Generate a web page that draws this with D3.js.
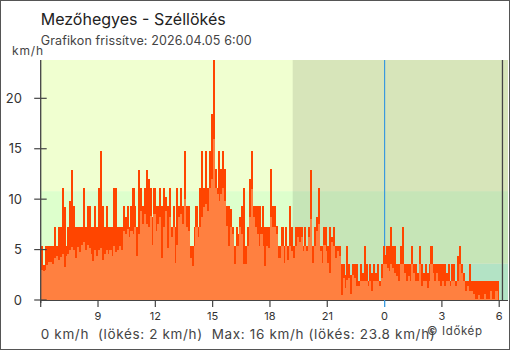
<!DOCTYPE html>
<html><head><meta charset="utf-8">
<script src="https://cdn.jsdelivr.net/npm/d3@7"></script>
<style>html,body{margin:0;padding:0;background:#fff;} svg{display:block;font-family:Inter, sans-serif;}</style>
</head><body><svg id="c" width="510" height="350"></svg>
<script>
// ---- data ----
const titleText = "Mezőhegyes - Széllökés";
const subtitleText = "Grafikon frissítve: 2026.04.05 6:00";
const unitText = "km/h";
const footerText = "0 km/h  (lökés: 2 km/h)  Max: 16 km/h (lökés: 23.8 km/h)";
const creditText = "© Időkép";
// hours since 2026.04.04 6:00
const xTickHours = [0, 3, 6, 9, 12, 15, 18, 21, 24];
const xTickLabels = ["", "9", "12", "15", "18", "21", "0", "3", "6"];
const yTicks = [0, 5, 10, 15, 20];
const bandEdges = [0, 3.6, 10.8, 23.8];
const stepMinutes = 6;
const nightStartHour = 13.19;
const midnightHour = 18;
const nowHour = 24.17;
const endHour = 24.46;
const gust = [
5.4,3.5,5.4,5.4,5.4,5.4,5.4,7.2,5.4,7.2,
7.2,11.1,9.2,5.4,7.2,9.8,12.9,9.3,7.2,7.2,
7.2,7.2,11.1,7.2,9.3,9.3,7.2,7.2,9.3,7.2,
11.1,14.8,9.3,7.2,9.3,7.2,7.2,7.2,11.1,11.1,
7.2,7.2,7.2,9.3,8.2,9.3,7.2,9.3,11.1,9.3,
7.2,12.9,11.1,9.3,11.1,12.9,12.0,11.1,8.2,11.1,
9.3,9.3,11.1,9.3,11.1,10.2,9.3,11.1,7.2,9.3,
7.2,11.1,9.3,11.1,9.3,14.8,9.3,9.3,5.4,5.4,
7.2,9.3,7.2,11.1,14.8,11.1,14.8,11.1,14.8,18.4,
23.8,13.0,11.1,14.8,13.0,14.8,13.0,9.3,9.3,9.0,
7.2,5.4,7.2,6.5,8.2,9.3,11.1,5.4,7.2,12.0,
14.8,9.3,9.3,9.3,9.3,7.2,9.3,7.2,7.2,7.2,
13.0,9.3,9.3,7.3,5.4,5.4,7.2,5.4,7.2,5.4,
9.3,7.2,5.4,7.2,7.2,7.2,7.2,5.4,7.2,5.4,
7.2,12.9,5.4,7.2,8.2,11.1,5.4,5.4,7.2,7.2,
5.4,7.2,6.2,7.2,5.4,5.4,5.4,3.6,3.6,2.5,
5.4,3.6,2.5,3.6,3.6,3.6,1.9,3.6,2.7,5.4,
3.6,1.9,3.6,2.7,3.6,2.7,3.6,1.9,3.6,5.4,
4.5,5.4,5.4,7.2,5.4,5.4,3.6,3.6,5.4,7.2,
3.6,3.6,3.6,3.6,5.4,3.6,3.6,2.7,5.4,3.6,
2.7,3.6,2.7,3.6,5.4,3.6,3.6,3.6,3.6,3.6,
3.6,3.6,2.7,3.6,1.9,3.6,3.6,1.9,4.4,5.4,
3.6,2.7,1.9,1.9,3.6,1.9,1.9,1.9,1.9,1.9,
1.9,1.9,1.9,1.9,1.9,1.9,1.9,1.9,1.9,1.9
];
const speed = [
3.0,2.9,3.0,3.5,3.8,3.8,3.6,4.2,4.4,4.0,
4.3,4.6,3.3,4.4,4.6,5.0,5.3,5.0,4.2,5.3,
4.8,5.5,5.8,5.0,5.5,5.2,4.6,3.9,5.0,4.4,
5.0,5.2,4.0,4.6,5.0,4.6,5.0,4.4,5.4,4.8,
5.0,5.4,5.0,6.8,6.5,7.0,6.2,6.8,6.5,7.2,
4.4,6.5,8.8,7.5,8.5,7.5,7.2,8.3,5.5,8.5,
6.8,7.5,8.2,4.2,7.2,8.8,5.2,8.2,6.2,7.2,
3.7,5.5,8.2,8.5,7.5,10.0,7.2,6.8,4.2,3.4,
5.4,7.2,6.2,7.2,8.2,9.2,9.5,8.8,11.1,12.0,
16.0,11.1,10.5,9.8,10.5,11.1,9.8,7.3,5.4,7.2,
6.5,3.6,5.4,5.4,7.2,6.5,3.6,3.6,5.4,8.2,
11.0,8.2,7.2,6.5,5.4,6.5,5.4,3.4,5.4,5.2,
8.2,7.2,7.2,6.5,4.2,4.2,5.4,3.7,5.4,4.0,
5.4,4.9,4.2,5.4,6.2,5.8,6.2,4.9,5.4,4.9,
6.2,8.0,3.7,5.4,6.8,7.5,4.9,3.7,5.5,4.9,
3.7,2.7,5.8,5.4,4.2,4.9,4.4,0.5,2.2,1.2,
2.0,2.2,0.6,2.5,2.2,1.4,1.4,1.9,1.9,1.9,
1.9,1.4,1.9,0.9,1.9,1.9,1.9,1.4,2.2,3.6,
3.6,3.2,2.9,3.6,3.2,2.7,2.4,1.9,3.6,3.6,
2.7,1.9,2.4,1.9,3.6,2.7,1.9,1.9,3.6,1.4,
1.9,1.9,1.2,1.9,3.6,2.7,1.9,2.7,1.9,1.4,
1.9,1.4,1.9,1.9,1.4,1.9,1.9,1.4,1.9,3.6,
2.7,1.9,0.9,1.4,0.9,0.9,0.6,0.1,0.1,0.5,
0.1,0.1,0.6,0.1,0.1,0.9,0.1,0.1,0.9,0.0
];

// ---- drawing ----
(function(){
const svg = d3.select("#c");
const W = 510, H = 350;
const pL = 40.7, pR = 508, pT = 60, pB = 300;
const x = d3.scaleLinear().domain([0, endHour]).range([pL, pR]);
const y = d3.scaleLinear().domain([0, 23.8]).range([pB, pT]);
const dark = "#444";

svg.append("rect").attr("x",0).attr("y",0).attr("width",W).attr("height",H).attr("fill","#fff");

const bandColors = ["#c8fddc", "#ddffcc", "#f0ffd0"];
const bands = d3.range(bandEdges.length-1).map(i => ({lo: bandEdges[i], hi: bandEdges[i+1], c: bandColors[i]}));
svg.selectAll("rect.band").data(bands).join("rect").attr("class","band")
  .attr("x", pL).attr("width", pR-pL)
  .attr("y", d => y(d.hi)).attr("height", d => y(d.lo)-y(d.hi))
  .attr("fill", d => d.c);
svg.append("rect").attr("x", x(nightStartHour)).attr("width", pR - x(nightStartHour))
  .attr("y", pT).attr("height", pB-pT).attr("fill","#000").attr("opacity",0.1);

svg.append("line").attr("x1", x(midnightHour)).attr("x2", x(midnightHour))
  .attr("y1", pT).attr("y2", pB+7).attr("stroke","#3a9ade").attr("stroke-width",1.2);
svg.append("line").attr("x1", x(nowHour)).attr("x2", x(nowHour))
  .attr("y1", pT).attr("y2", pB).attr("stroke",dark).attr("stroke-width",1.3);

const stepH = stepMinutes/60;
const bw = x(stepH) - x(0);
const gData = gust.map((v,i)=>({t:i*stepH, v}));
const sData = speed.map((v,i)=>({t:i*stepH, v}));
svg.append("g").attr("shape-rendering","crispEdges").selectAll("rect").data(gData).join("rect")
  .attr("x", d=>x(d.t)).attr("width", bw+0.2)
  .attr("y", d=>y(d.v)).attr("height", d=>y(0)-y(d.v)).attr("fill","#ff4500");
svg.append("g").attr("shape-rendering","crispEdges").selectAll("rect").data(sData).join("rect")
  .attr("x", d=>x(d.t)).attr("width", bw+0.2)
  .attr("y", d=>y(d.v)).attr("height", d=>y(0)-y(d.v)).attr("fill","#ff8040");

svg.append("line").attr("x1",pL).attr("x2",pL).attr("y1",pT).attr("y2",pB+3).attr("stroke",dark).attr("stroke-width",1.3);
const yg = svg.append("g");
yg.selectAll("line").data(yTicks).join("line")
  .attr("x1", pL-6.5).attr("x2", pL+6).attr("y1", d=>y(d)).attr("y2", d=>y(d))
  .attr("stroke", dark).attr("stroke-width",1.2);
yg.selectAll("text").data(yTicks).join("text")
  .attr("x", 22).attr("y", d=>y(d)).attr("dy","0.35em").attr("text-anchor","end")
  .attr("font-size",13).attr("fill","#333").text(d=>d);

svg.append("line").attr("x1",pL).attr("x2",pR).attr("y1",pB+0.5).attr("y2",pB+0.5).attr("stroke",dark).attr("stroke-width",1.2);
const xg = svg.append("g");
xg.selectAll("line").data(xTickHours).join("line")
  .attr("x1", d=>x(d)).attr("x2", d=>x(d)).attr("y1", pB).attr("y2", pB+7)
  .attr("stroke", d => d===midnightHour ? "#3a9ade" : dark).attr("stroke-width",1.2);
xg.selectAll("text").data(xTickHours).join("text")
  .attr("x", d=>x(d)).attr("y", 319.5).attr("text-anchor","middle")
  .attr("font-size",11).attr("fill","#333").text((d,i)=>xTickLabels[i]);

svg.append("text").attr("x",40.7).attr("y",24.5).attr("font-size",16).attr("fill","#222")
  .attr("textLength",185).attr("lengthAdjust","spacing").text(titleText);
svg.append("text").attr("x",40.7).attr("y",45).attr("font-size",12.5).attr("fill","#444")
  .attr("textLength",211).attr("lengthAdjust","spacing").text(subtitleText);
svg.append("text").attr("x",12).attr("y",55).attr("font-size",12).attr("fill","#444")
  .attr("textLength",31).attr("lengthAdjust","spacing").text(unitText);
svg.append("text").attr("x",40.7).attr("y",338.5).attr("font-size",13.5).attr("fill","#444")
  .style("white-space","pre").attr("textLength",394).attr("lengthAdjust","spacing").text(footerText);
svg.append("text").attr("x",427).attr("y",335).attr("font-size",11.5).attr("fill","#444")
  .attr("textLength",55).attr("lengthAdjust","spacing").text(creditText);

svg.append("rect").attr("x",0.5).attr("y",0.5).attr("width",W-1).attr("height",H-1)
  .attr("fill","none").attr("stroke","#555").attr("stroke-width",1);
})();
</script></body></html>
